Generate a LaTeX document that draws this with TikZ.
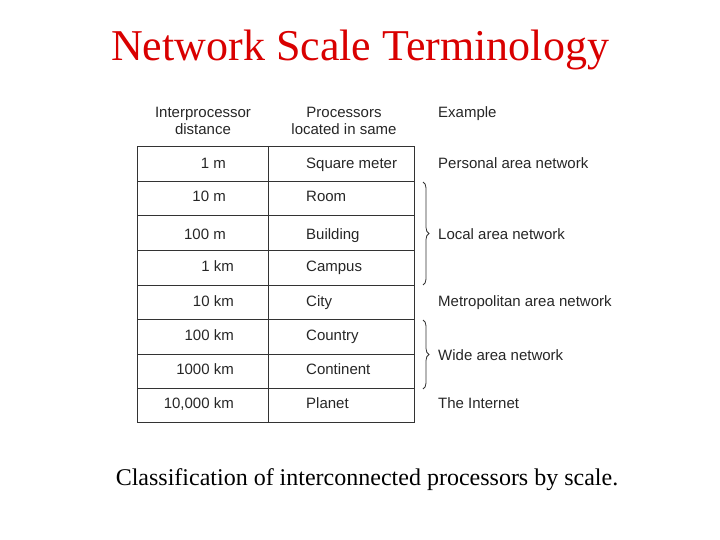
\documentclass[tikz,border=0pt]{standalone}
\usepackage{fontspec}
\setmainfont{Liberation Serif}
\newfontfamily\tabfont{Liberation Sans}
\usetikzlibrary{decorations.pathreplacing}
\begin{document}
\begin{tikzpicture}[x=1pt,y=-1pt,
    cell/.style={font=\tabfont\fontsize{15}{17}\selectfont,text=black!85,inner sep=0pt},
    dist/.style={cell,anchor=base east},
    place/.style={cell,anchor=base west},
    kind/.style={cell,anchor=base west},
    rule/.style={black!80,line width=0.9pt},
    curly/.style={decorate,decoration={brace,amplitude=6pt},black!80,line width=0.8pt}]
  \useasboundingbox (0,0) rectangle (720,540);
  \node[font=\fontsize{44}{50}\selectfont,text=red!85!black] (title) at (360,50) {Network Scale Terminology};
  % header
  \node[cell,align=center] (hdist) at (203,121) {Interprocessor\\distance};
  \node[cell,align=center] (hplace) at (344,121) {Processors\\located in same};
  \node[kind] (hkind) at (438,118) {Example};
  % table frame
  \draw[rule] (137,146) rectangle (414,422);
  \draw[rule] (268,146) -- (268,422);
  \foreach \y in {181,215,250,285,319,354,388}
    \draw[rule] (137,\y) -- (414,\y);
  % rows
  \foreach \d/\x/\p/\y in {1 m/226/Square meter/169,10 m/226/Room/202,100 m/226/Building/240,1 km/234/Campus/271,
      10 km/234/City/306,100 km/234/Country/340,1000 km/234/Continent/374,{10,000 km}/234/Planet/408}{
    \node[dist] at (\x,\y) {\d};
    \node[place] at (306,\y) {\p};
  }
  \node[kind] (pan) at (438,169) {Personal area network};
  \node[kind] (lan) at (438,240) {Local area network};
  \node[kind] (man) at (438,306) {Metropolitan area network};
  \node[kind] (wan) at (438,360) {Wide area network};
  \node[kind] (inet) at (438,408) {The Internet};
  \coordinate (lantop) at (423,182);
  \coordinate (lanbot) at (423,285);
  \coordinate (wantop) at (423,320);
  \coordinate (wanbot) at (423,389);
  \draw[curly] (lantop) -- (lanbot);
  \draw[curly] (wantop) -- (wanbot);
  \node[font=\fontsize{24}{28}\selectfont] (caption) at (367,480) {Classification of interconnected processors by scale.};
\end{tikzpicture}
\end{document}
